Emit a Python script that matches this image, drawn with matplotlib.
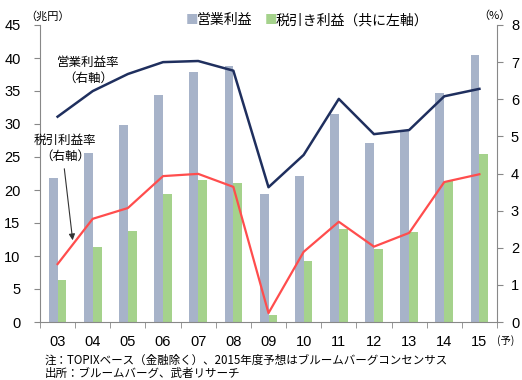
import matplotlib
matplotlib.use("Agg")
import matplotlib.pyplot as plt
import numpy as np

plt.rcParams['font.family'] = ['Noto Sans CJK JP', 'DejaVu Sans']

years = ["03", "04", "05", "06", "07", "08", "09", "10", "11", "12", "13", "14", "15"]
op_profit = [21.8, 25.6, 29.9, 34.4, 37.9, 38.8, 19.4, 22.1, 31.5, 27.1, 28.9, 34.7, 40.4]
pretax_profit = [6.3, 11.4, 13.8, 19.4, 21.5, 21.0, 1.1, 9.3, 14.1, 11.0, 13.6, 21.3, 25.5]
op_margin = [5.53, 6.22, 6.68, 7.0, 7.03, 6.77, 3.63, 4.5, 6.01, 5.06, 5.17, 6.08, 6.28]
pretax_margin = [1.56, 2.78, 3.07, 3.93, 3.99, 3.64, 0.24, 1.89, 2.70, 2.03, 2.40, 3.77, 3.98]

gray = "#A7B3C9"
green = "#A5D28C"
navy = "#1F2F5E"
red = "#FF4D4D"
axcol = "#888888"
numfont = 'Liberation Sans'

fig = plt.figure(figsize=(5.22, 3.80), dpi=100)
ax = fig.add_axes([40/522, 1-322/380, 457/522, 297/380])
x = np.arange(len(years))
w = 0.25
ax.bar(x - w/2, op_profit, width=w, color=gray, zorder=2)
ax.bar(x + w/2, pretax_profit, width=w, color=green, zorder=2)
ax.set_xlim(-0.5, len(years) - 0.5)
ax.set_ylim(0, 45)
ax.set_yticks(np.arange(0, 46, 5))
ax.set_xticks(x)
ax.set_xticklabels(years)
ax.set_xticks(np.arange(-0.5, len(years), 1), minor=True)
ax.tick_params(axis='x', which='major', length=0, pad=9, labelsize=10.5)
ax.tick_params(axis='x', which='minor', length=4, color=axcol, direction='out')
ax.tick_params(axis='y', length=4, color=axcol, labelsize=10.5, pad=10)
for s in ['top', 'right']:
    ax.spines[s].set_visible(False)
for s in ['left', 'bottom']:
    ax.spines[s].set_color(axcol)

ax2 = ax.twinx()
ax2.plot(x, op_margin, color=navy, lw=1.8, zorder=3)
ax2.plot(x, pretax_margin, color=red, lw=1.6, zorder=3)
ax2.set_ylim(0, 8)
ax2.set_yticks(np.arange(0, 9, 1))
ax2.tick_params(axis='y', length=4, color=axcol, labelsize=10.5, pad=6)
for s in ['top', 'left', 'bottom']:
    ax2.spines[s].set_visible(False)
ax2.spines['right'].set_color(axcol)
ax2.set_xlim(-0.5, len(years) - 0.5)

for lab in ax.get_xticklabels() + ax.get_yticklabels() + ax2.get_yticklabels():
    lab.set_fontfamily(numfont)

# unit labels
fig.text(25/522, 1-16/380, "（兆円）", fontsize=8, va='center', ha='left')
fig.text(478/522, 1-16/380, "（%）", fontsize=8, va='center', ha='left')
fig.text(497/522, 1-341/380, "(予)", fontsize=7.5, va='center', ha='left')

# legend
fig.text(186/522, 1-20/380, "■", color=gray, fontsize=9, va='center', ha='left')
fig.text(197/522, 1-20/380, "営業利益", fontsize=10, va='center', ha='left')
fig.text(265/522, 1-20/380, "■", color=green, fontsize=9, va='center', ha='left')
fig.text(276/522, 1-20/380, "税引き利益（共に左軸）", fontsize=10, va='center', ha='left')

# annotations
fig.text(88/522, 1-70/380, "営業利益率\n（右軸）", fontsize=9, va='center', ha='center', linespacing=1.3)
fig.text(65/522, 1-148/380, "税引利益率\n（右軸）", fontsize=9, va='center', ha='center', linespacing=1.3)
fig.add_artist(matplotlib.patches.FancyArrowPatch(
    (64/522, 1-166/380), (73/522, 1-243/380), transform=fig.transFigure,
    arrowstyle='-|>', mutation_scale=9, color='#333333', lw=0.8))

# footnotes
fig.text(45/522, 1-360/380, "注：TOPIXベース（金融除く）、2015年度予想はブルームバーグコンセンサス", fontsize=8.3, va='center', ha='left')
fig.text(45/522, 1-373/380, "出所：ブルームバーグ、武者リサーチ", fontsize=8.3, va='center', ha='left')

fig.savefig("out.png", dpi=100)
